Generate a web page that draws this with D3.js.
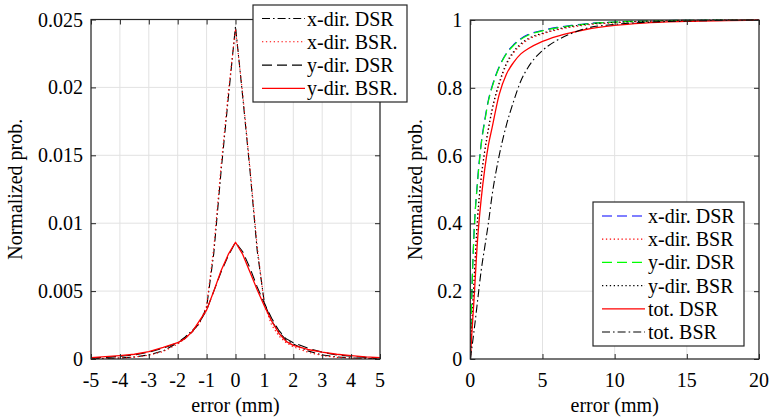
<!DOCTYPE html>
<html>
<head>
<meta charset="utf-8">
<script src="https://cdn.jsdelivr.net/npm/d3@7"></script>
<style>
  html, body { margin: 0; padding: 0; background: #fff; }
  svg { display: block; }
</style>
</head>
<body>
<svg id="chart" width="773" height="420"></svg>
<script>
// ---------------- DATA ----------------
// Left panel: error PDFs
const pdfErr = [-5,-4.5,-4,-3.5,-3,-2.5,-2,-1.75,-1.5,-1.25,-1,-0.75,-0.5,-0.25,0,0.25,0.5,0.75,1,1.25,1.5,1.75,2,2.5,3,3.5,4,4.5,5];
const pdfXDirDSR = [0.00002,0.00004,0.00007,0.00015,0.0003,0.0006,0.0012,0.0016,0.0021,0.0026,0.0038,0.0078,0.0138,0.0192,0.0245,0.0193,0.0139,0.0080,0.0041,0.0028,0.0020,0.0014,0.0011,0.0006,0.0003,0.00015,0.00008,0.00004,0.00002];
const pdfXDirBSR = [0.00002,0.00004,0.00007,0.00014,0.00028,0.00055,0.0011,0.0015,0.0020,0.0026,0.0039,0.0082,0.0142,0.0196,0.0243,0.0195,0.0141,0.0083,0.0040,0.0025,0.0017,0.0012,0.0009,0.0005,0.00025,0.00012,0.00006,0.00003,0.00002];
const pdfYDirDSR = [0.00008,0.00012,0.0002,0.0003,0.0005,0.0008,0.0012,0.0015,0.0020,0.0027,0.0036,0.0050,0.0064,0.0076,0.0086,0.0079,0.0067,0.0053,0.0041,0.0030,0.0021,0.0015,0.0012,0.0008,0.0005,0.0003,0.0002,0.00012,0.00008];
const pdfYDirBSR = [0.0001,0.00017,0.00025,0.00035,0.00055,0.00085,0.0012,0.0015,0.0020,0.0028,0.0036,0.0050,0.0065,0.0077,0.0086,0.0077,0.0064,0.0051,0.0039,0.0028,0.0019,0.0013,0.0010,0.0007,0.0005,0.00035,0.00025,0.00016,0.0001];
const leftXTicks = [-5,-4,-3,-2,-1,0,1,2,3,4,5];
const leftXTickLabels = ["-5","-4","-3","-2","-1","0","1","2","3","4","5"];
const leftYTicks = [0,0.005,0.01,0.015,0.02,0.025];
const leftYTickLabels = ["0","0.005","0.01","0.015","0.02","0.025"];
const leftLegend = ["x-dir. DSR","x-dir. BSR.","y-dir. DSR","y-dir. BSR."];

// Right panel: CDFs
const cdfErr = [0,0.1,0.25,0.5,0.75,1,1.25,1.5,2,2.5,3,3.5,4,5,6,7,8,10,12,15,20];
const cdfXDirDSR = [0,0.185,0.365,0.525,0.635,0.705,0.763,0.803,0.862,0.902,0.927,0.945,0.957,0.969,0.978,0.984,0.989,0.994,0.997,0.999,1];
const cdfXDirBSR = [0,0.09,0.22,0.41,0.53,0.61,0.675,0.73,0.81,0.868,0.903,0.926,0.942,0.959,0.971,0.979,0.985,0.992,0.996,0.999,1];
const cdfYDirDSR = [0,0.18,0.36,0.52,0.63,0.70,0.76,0.80,0.86,0.90,0.925,0.943,0.955,0.968,0.977,0.983,0.988,0.994,0.997,0.999,1];
const cdfYDirBSR = [0,0.095,0.225,0.415,0.535,0.615,0.68,0.735,0.815,0.872,0.907,0.93,0.945,0.961,0.973,0.981,0.987,0.993,0.996,0.999,1];
const cdfTotDSR = [0,0.07,0.17,0.35,0.47,0.56,0.63,0.68,0.78,0.84,0.875,0.90,0.915,0.937,0.952,0.963,0.972,0.984,0.991,0.996,1];
const cdfTotBSR = [0,0.03,0.08,0.17,0.26,0.33,0.40,0.48,0.60,0.69,0.76,0.82,0.86,0.91,0.94,0.96,0.975,0.987,0.993,0.997,1];
const rightXTicks = [0,5,10,15,20];
const rightXTickLabels = ["0","5","10","15","20"];
const rightYTicks = [0,0.2,0.4,0.6,0.8,1];
const rightYTickLabels = ["0","0.2","0.4","0.6","0.8","1"];
const rightLegend = ["x-dir. DSR","x-dir. BSR","y-dir. DSR","y-dir. BSR","tot. DSR","tot. BSR"];

const xLabel = "error (mm)";
const yLabel = "Normalized prob.";

// ---------------- STYLES ----------------
const FONT = "Liberation Serif";
const FS = 20;
const DASH = "10,5", DOT = "1.3,2.6", DASHDOT = "8,3,1.6,3";
const leftStyles = [
  {color:"#000000", dash:DASHDOT, w:1.1},
  {color:"#ff0000", dash:DOT, w:1.1},
  {color:"#000000", dash:DASH, w:1.1},
  {color:"#ff0000", dash:null, w:1.3}
];
const rightStyles = [
  {color:"#0000ff", dash:DASH, w:1.2},
  {color:"#ff0000", dash:DOT, w:1.2},
  {color:"#00ff00", dash:DASH, w:1.2},
  {color:"#000000", dash:DOT, w:1.1},
  {color:"#ff0000", dash:null, w:1.3},
  {color:"#000000", dash:DASHDOT, w:1.1}
];

const svg = d3.select("#chart");
const AX = "#262626", GRID = "#e2e2e2";
const texts = []; // collected, drawn last in a top-level layer

function qtext(x, y, str, anchor, rot) {
  texts.push({x, y, str, anchor: anchor || "start", rot: rot || 0});
}

function panel(cfg) {
  const {x0,x1,y0,y1} = cfg.box;
  const x = d3.scaleLinear().domain(cfg.xDomain).range([x0,x1]);
  const y = d3.scaleLinear().domain(cfg.yDomain).range([y1,y0]);
  const g = svg.append("g");

  // grid
  g.append("g").selectAll("line").data(cfg.xTicks).join("line")
    .attr("x1",d=>x(d)).attr("x2",d=>x(d)).attr("y1",y0).attr("y2",y1)
    .attr("stroke",GRID).attr("stroke-width",1);
  g.append("g").selectAll("line").data(cfg.yTicks).join("line")
    .attr("y1",d=>y(d)).attr("y2",d=>y(d)).attr("x1",x0).attr("x2",x1)
    .attr("stroke",GRID).attr("stroke-width",1);

  // series
  const clipId = "clip" + cfg.id;
  svg.append("clipPath").attr("id",clipId).append("rect")
    .attr("x",x0).attr("y",y0-2).attr("width",x1-x0).attr("height",y1-y0+2);
  const line = d3.line().x(d=>x(d[0])).y(d=>y(d[1])).curve(cfg.curve);
  const sg = g.append("g").attr("clip-path",`url(#${clipId})`);
  cfg.series.forEach((s,i)=>{
    const st = cfg.styles[i];
    sg.append("path").datum(cfg.xs.map((v,k)=>[v,s[k]]))
      .attr("d",line).attr("fill","none")
      .attr("stroke",st.color).attr("stroke-width",st.w)
      .attr("stroke-dasharray",st.dash)
      .attr("stroke-linejoin","round");
  });

  // axes: tick marks inward on all four sides (labels drawn separately)
  const axes = [
    g.append("g").attr("transform",`translate(0,${y1})`)
      .call(d3.axisBottom(x).tickValues(cfg.xTicks).tickSizeInner(-5).tickSizeOuter(0).tickFormat("")),
    g.append("g").attr("transform",`translate(${x0},0)`)
      .call(d3.axisLeft(y).tickValues(cfg.yTicks).tickSizeInner(-5).tickSizeOuter(0).tickFormat("")),
    g.append("g").attr("transform",`translate(0,${y0})`)
      .call(d3.axisTop(x).tickValues(cfg.xTicks).tickSizeInner(-5).tickSizeOuter(0).tickFormat("")),
    g.append("g").attr("transform",`translate(${x1},0)`)
      .call(d3.axisRight(y).tickValues(cfg.yTicks).tickSizeInner(-5).tickSizeOuter(0).tickFormat(""))
  ];
  axes.forEach(a=>{
    a.attr("font-family",null).attr("font-size",null).attr("fill",null);
    a.select(".domain").remove();
    a.selectAll(".tick line").attr("stroke",AX).attr("stroke-width",1);
    a.selectAll("text").remove();
  });
  g.append("rect").attr("x",x0).attr("y",y0).attr("width",x1-x0).attr("height",y1-y0)
    .attr("fill","none").attr("stroke",AX).attr("stroke-width",1.2);

  // tick labels and axis labels (queued)
  cfg.xTicks.forEach((d,i)=> qtext(x(d), y1 + 28, cfg.xTickLabels[i], "middle"));
  cfg.yTicks.forEach((d,i)=> qtext(x0 - 8, y(d) + 7, cfg.yTickLabels[i], "end"));
  qtext((x0+x1)/2, 412, xLabel, "middle");
  qtext(cfg.yLabelX, (y0+y1)/2, yLabel, "middle", -90);

  // legend
  const L = cfg.legend;
  const lg = svg.append("g");
  lg.append("rect").attr("x",L.x0).attr("y",L.y0).attr("width",L.x1-L.x0).attr("height",L.y1-L.y0)
    .attr("fill","#fff").attr("stroke",AX).attr("stroke-width",1.2);
  cfg.legendNames.forEach((name,i)=>{
    const st = cfg.styles[i];
    const yy = L.rowY0 + i*L.rowH;
    lg.append("line").attr("x1",L.lineX0).attr("x2",L.lineX1).attr("y1",yy).attr("y2",yy)
      .attr("stroke",st.color).attr("stroke-width",st.w).attr("stroke-dasharray",st.dash);
    qtext(L.textX, yy + 7, name, "start");
  });
}

panel({
  id:"L", box:{x0:91,x1:380,y0:19.5,y1:359},
  xDomain:[-5,5], yDomain:[0,0.025],
  xTicks:leftXTicks, xTickLabels:leftXTickLabels,
  yTicks:leftYTicks, yTickLabels:leftYTickLabels,
  xs:pdfErr, series:[pdfXDirDSR,pdfXDirBSR,pdfYDirDSR,pdfYDirBSR],
  styles:leftStyles, curve:d3.curveLinear, yLabelX:22,
  legendNames:leftLegend,
  legend:{x0:253,x1:407,y0:5,y1:102,rowY0:18.5,rowH:23.3,lineX0:262,lineX1:305,textX:307}
});

panel({
  id:"R", box:{x0:470.3,x1:759,y0:20,y1:359},
  xDomain:[0,20], yDomain:[0,1],
  xTicks:rightXTicks, xTickLabels:rightXTickLabels,
  yTicks:rightYTicks, yTickLabels:rightYTickLabels,
  xs:cdfErr, series:[cdfXDirDSR,cdfXDirBSR,cdfYDirDSR,cdfYDirBSR,cdfTotDSR,cdfTotBSR],
  styles:rightStyles, curve:d3.curveMonotoneX, yLabelX:422,
  legendNames:rightLegend,
  legend:{x0:593,x1:744,y0:202,y1:346,rowY0:216,rowH:23.2,lineX0:602,lineX1:645,textX:648}
});

// top-level text layer, all one font / size / colour
const tlayer = svg.append("g");
tlayer.selectAll("text").data(texts).join("text")
  .attr("x", d => d.rot ? 0 : d.x)
  .attr("y", d => d.rot ? 0 : d.y)
  .attr("transform", d => d.rot ? `translate(${d.x},${d.y}) rotate(${d.rot})` : null)
  .attr("text-anchor", d => d.anchor)
  .attr("font-family", FONT)
  .attr("font-size", FS + "px")
  .attr("fill", "#000")
  .text(d => d.str);
</script>
</body>
</html>
